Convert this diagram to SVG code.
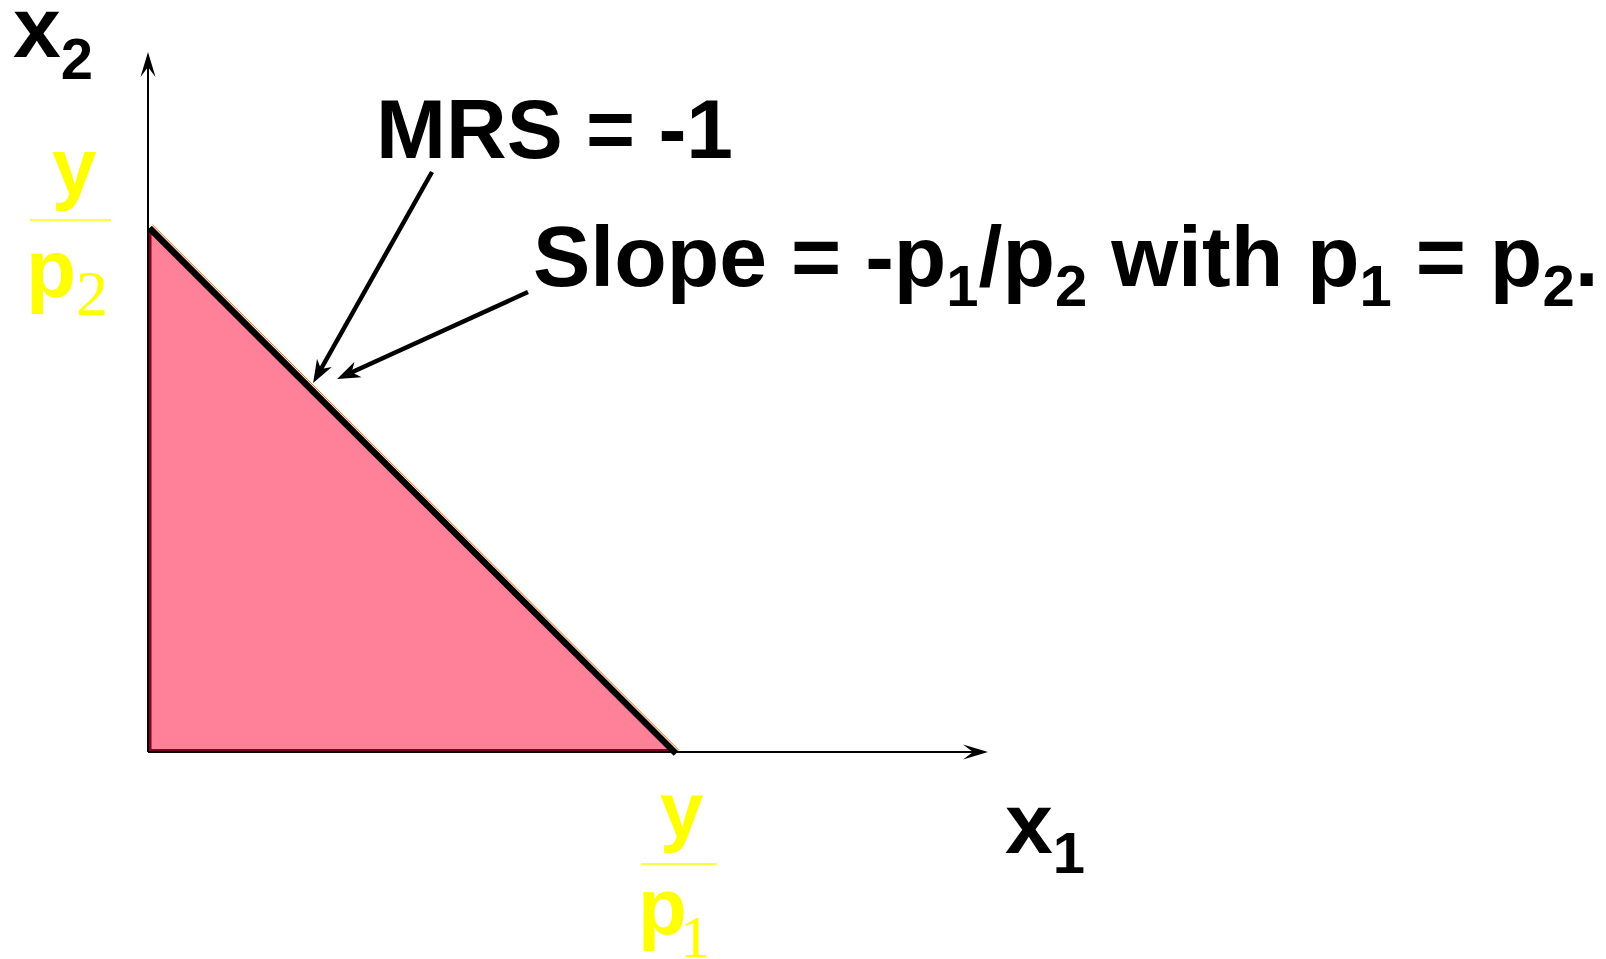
<svg xmlns="http://www.w3.org/2000/svg" width="1606" height="959" viewBox="0 0 1606 959">
<style>
.t{font-family:"Liberation Sans",Arial,sans-serif;font-weight:bold;fill:#000}
.big{font-size:86px}
.sub{font-size:58px}
.yl{font-family:"Liberation Sans",Arial,sans-serif;font-weight:bold;fill:#FFFF00}
.ys{font-family:"Liberation Serif","Times New Roman",serif;font-weight:normal;fill:#FFFF00}
.axis{stroke:#000;stroke-width:2;fill:none}
.call{stroke:#000;stroke-width:4.5;fill:none;marker-end:url(#callHead)}
.frac{stroke:#FFFF00;stroke-width:1.5}
</style>
<defs>
<marker id="axHead" markerUnits="userSpaceOnUse" markerWidth="40" markerHeight="40" refX="0" refY="0" orient="auto" overflow="visible">
<path d="M14,0 L-11,-7.5 L-1,0 L-11,7.5 Z" fill="#000"/>
</marker>
<marker id="callHead" markerUnits="userSpaceOnUse" markerWidth="40" markerHeight="40" refX="0" refY="0" orient="auto" overflow="visible">
<path d="M12,0 L-11,-8.5 L-4,0 L-11,8.5 Z" fill="#000"/>
</marker>
</defs>

<g id="budget-set">
<polygon points="150,231 150,750.5 672,750.5" fill="#FF8099" stroke="#80001F" stroke-width="3"/>
<line x1="149.5" y1="228" x2="676" y2="753.5" stroke="#000" stroke-width="6.5"/>
<line x1="152.5" y1="224.8" x2="679" y2="750.3" stroke="#FF6A00" stroke-width="1"/>
</g>

<g id="axes">
<line class="axis" x1="148" y1="752" x2="148" y2="66" marker-end="url(#axHead)"/>
<line class="axis" x1="148" y1="752" x2="974" y2="752" marker-end="url(#axHead)"/>
</g>

<g id="connectors">
<line class="call" x1="432" y1="172" x2="319" y2="372.5"/>
<line class="call" x1="528" y1="292" x2="348" y2="374"/>
</g>

<g id="label-x2">
<text class="t big" x="13" y="57">x<tspan class="sub" dy="22">2</tspan></text>
</g>
<g id="label-x1">
<text class="t big" x="1005" y="853">x<tspan class="sub" font-size="53" dy="20">1</tspan></text>
</g>

<g id="label-mrs">
<text class="t" font-size="84" x="376" y="158">MRS = -1</text>
</g>

<g id="label-slope">
<text class="t big" x="533" y="286">Slope = -p<tspan class="sub" dy="20">1</tspan><tspan dy="-20">/p</tspan><tspan class="sub" dy="20">2</tspan><tspan dy="-20"> with p</tspan><tspan class="sub" dy="20">1</tspan><tspan dy="-20"> = p</tspan><tspan class="sub" dy="20">2</tspan><tspan dy="-20">.</tspan></text>
</g>

<g id="label-y-p2">
<text class="yl" font-size="80" x="52" y="194">y</text>
<line class="frac" x1="30" y1="220" x2="111" y2="220"/>
<text class="yl" font-size="82" x="26" y="297">p</text>
<text class="ys" font-size="64" x="76" y="315">2</text>
</g>

<g id="label-y-p1">
<text class="yl" font-size="78" x="660" y="837">y</text>
<line class="frac" x1="641" y1="864" x2="717" y2="864"/>
<text class="yl" font-size="80" x="638" y="934">p</text>
<text class="ys" font-size="60" x="680" y="957">1</text>
</g>
</svg>
